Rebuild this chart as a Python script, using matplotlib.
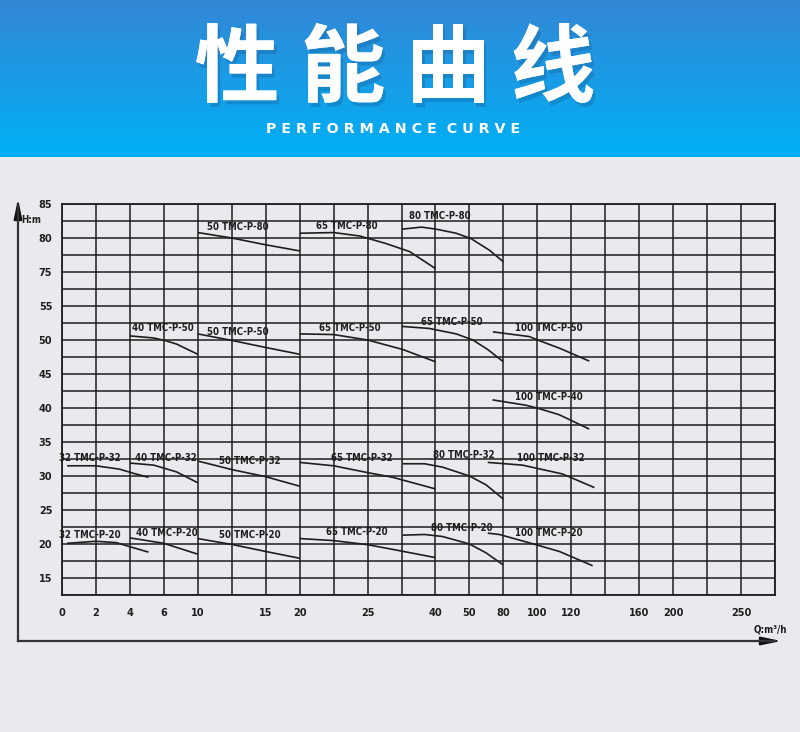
import numpy as np
import matplotlib
matplotlib.use('Agg')
import matplotlib.pyplot as plt
import matplotlib.patheffects as pe
from matplotlib.ticker import FixedLocator, NullFormatter

# ---- datos ----
q_ticks = [0, 2, 4, 6, 10, 15, 20, 25, 40, 50, 80, 100, 120, 160, 200, 250]
h_ticks = [15, 20, 25, 30, 35, 40, 45, 50, 55, 75, 80, 85]

modelos = ["50 TMC-P-80", "65 TMC-P-80", "80 TMC-P-80",
           "40 TMC-P-50", "50 TMC-P-50", "65 TMC-P-50", "65 TMC-P-50",
           "100 TMC-P-50", "100 TMC-P-40",
           "32 TMC-P-32", "40 TMC-P-32", "50 TMC-P-32", "65 TMC-P-32",
           "80 TMC-P-32", "100 TMC-P-32",
           "32 TMC-P-20", "40 TMC-P-20", "50 TMC-P-20", "65 TMC-P-20",
           "80 TMC-P-20", "100 TMC-P-20"]

caudal = [
    [10, 12.5, 15, 20],
    [20, 22.5, 24.4, 29, 34.3, 40],
    [32.6, 36.9, 40.2, 46.1, 51.5, 67.7, 80],
    [4, 5.4, 6.2, 7.5, 10],
    [10, 12.6, 15, 20],
    [20, 22.5, 25, 32.8, 40],
    [32.6, 38.6, 46.1, 53, 66.2, 80],
    [70.7, 95.3, 101.2, 113, 130.6],
    [70.4, 93.4, 101.2, 113, 130.6],
    [0.3, 2.0, 3.4, 4.2, 5.1],
    [4, 5.4, 7.5, 10],
    [10, 12.6, 15, 20],
    [20, 22.5, 25, 30.6, 40],
    [32.8, 37.6, 42.1, 50, 64.7, 80],
    [66.2, 91.2, 114.8, 133.6],
    [0.3, 2.0, 3.2, 4.0, 5.1],
    [4, 6, 10],
    [10, 12.6, 15, 20],
    [20, 22.5, 25, 30.6, 40],
    [32.8, 37.6, 42.1, 50, 64.7, 80],
    [66.2, 76.4, 99.2, 113, 132.6],
]

altura = [
    [80.8, 80.0, 79.0, 78.1],
    [80.7, 80.8, 80.3, 79.2, 78.0, 75.5],
    [81.3, 81.6, 81.3, 80.7, 79.9, 78.2, 76.5],
    [50.6, 50.3, 49.9, 49.4, 47.9],
    [50.9, 49.9, 48.9, 47.9],
    [50.9, 50.8, 50.0, 48.6, 46.8],
    [52.0, 51.7, 50.9, 50.0, 48.6, 46.8],
    [51.2, 50.5, 49.9, 48.8, 46.9],
    [41.2, 40.4, 39.9, 39.0, 36.9],
    [31.5, 31.5, 31.0, 30.4, 29.8],
    [31.9, 31.6, 30.6, 29.0],
    [32.2, 30.9, 29.9, 28.5],
    [32.0, 31.5, 30.5, 29.8, 28.1],
    [31.8, 31.8, 31.3, 30.0, 28.7, 26.6],
    [32.0, 31.6, 30.3, 28.3],
    [20.1, 20.4, 20.2, 19.6, 18.8],
    [20.9, 20.1, 18.5],
    [20.8, 19.9, 18.9, 17.9],
    [20.8, 20.5, 19.9, 19.2, 18.0],
    [21.3, 21.4, 21.1, 20.0, 18.7, 16.9],
    [21.6, 21.4, 19.9, 18.9, 16.8],
]

# posicion de cada etiqueta (columna, fila de la rejilla)
pos_etiquetas = [(5.18, 21.65), (8.38, 21.71), (11.12, 22.29),
                 (2.97, 15.71), (5.18, 15.47), (8.47, 15.71), (11.47, 16.06),
                 (14.35, 15.71), (14.35, 11.65),
                 (0.82, 8.06), (3.06, 8.06), (5.53, 7.88), (8.82, 8.06),
                 (11.82, 8.24), (14.41, 8.06),
                 (0.82, 3.53), (3.09, 3.65), (5.53, 3.53), (8.68, 3.71),
                 (11.79, 3.94), (14.35, 3.65)]

# ---- escalas no lineales (cada celda de la rejilla) ----
q_nodos = np.array([0, 2, 4, 6, 10, 15, 20, 25, 40, 50, 80, 100, 120, 160, 200, 250, 275], float)
c_nodos = np.array([0, 1, 2, 3, 4, 6, 7, 9, 11, 12, 13, 14, 15, 17, 18, 20, 21], float)
h_nodos = np.array([12.5, 55, 75, 85], float)
r_nodos = np.array([0, 17, 19, 23], float)

def q_fwd(q):
    return np.interp(q, q_nodos, c_nodos)

def q_inv(c):
    return np.interp(c, c_nodos, q_nodos)

def h_fwd(h):
    return np.interp(h, h_nodos, r_nodos)

def h_inv(r):
    return np.interp(r, r_nodos, h_nodos)

W, H = 800, 732
fig = plt.figure(figsize=(W / 100, H / 100), dpi=100)
fig.patch.set_facecolor('#e9eaee')

# ---- cabecera azul ----
ban = fig.add_axes([0, 1 - 157 / H, 1, 157 / H])
grad = np.linspace(0, 1, 256).reshape(-1, 1)
top = np.array([0.20, 0.53, 0.84])
bot = np.array([0.00, 0.69, 0.96])
img = top + (bot - top) * grad[:, :, None]
ban.imshow(img, aspect='auto', extent=[0, 1, 0, 1])
ban.set_xlim(0, 1)
ban.set_ylim(0, 1)
ban.axis('off')

sombra = [pe.withSimplePatchShadow(offset=(2, -3), shadow_rgbFace='#124a80', alpha=0.25), pe.Normal()]
for ch, xc in zip("性能曲线", [237, 343, 448, 553]):
    fig.text(xc / W, 1 - 70 / H, ch, color='white', fontsize=61, fontweight='bold',
             family=['Noto Sans CJK SC', 'DejaVu Sans'], ha='center', va='center',
             path_effects=sombra)
fig.text(393 / W, 1 - 129 / H, "P E R F O R M A N C E  C U R V E", color='white',
         fontsize=10.3, fontweight='bold', ha='center', va='center', family='DejaVu Sans')

# ---- grafico ----
ax = fig.add_axes([62 / W, (H - 595) / H, 713 / W, 391 / H])
ax.set_facecolor('#e9eaee')
ax.set_xscale('function', functions=(q_fwd, q_inv))
ax.set_yscale('function', functions=(h_fwd, h_inv))
ax.set_xlim(0, 275)
ax.set_ylim(12.5, 85)

ax.xaxis.set_major_locator(FixedLocator(q_ticks))
ax.xaxis.set_minor_locator(FixedLocator(q_inv(np.arange(22))))
ax.yaxis.set_major_locator(FixedLocator(h_ticks))
ax.yaxis.set_minor_locator(FixedLocator(h_inv(np.arange(24))))
ax.set_xticklabels([str(v) for v in q_ticks])
ax.set_yticklabels([str(v) for v in h_ticks])
ax.xaxis.set_minor_formatter(NullFormatter())
ax.yaxis.set_minor_formatter(NullFormatter())
ax.grid(True, which='both', color='#1e1e1e', linewidth=1.1)
ax.set_axisbelow(True)
ax.tick_params(which='both', length=0)
ax.tick_params(axis='x', pad=9)
ax.tick_params(axis='y', pad=7)
fuente = 'DejaVu Sans'
for lab in ax.get_xticklabels() + ax.get_yticklabels():
    lab.set_family(fuente)
    lab.set_fontstretch('condensed')
    lab.set_fontweight('bold')
    lab.set_fontsize(7.8)
    lab.set_color('#1e1e1e')
for s in ax.spines.values():
    s.set_color('#1e1e1e')
    s.set_linewidth(1.3)

for q, h in zip(caudal, altura):
    ax.plot(q, h, color='#1e1e1e', linewidth=1.2, solid_capstyle='butt')

for nombre, (c, r) in zip(modelos, pos_etiquetas):
    ax.text(c / 21, r / 23, nombre, transform=ax.transAxes, ha='center', va='center',
            fontsize=6.9, fontweight='bold', family=fuente, fontstretch='condensed',
            color='#1e1e1e')

# ---- ejes con flecha ----
fig.add_artist(plt.Line2D([18 / W, 18 / W], [1 - 641 / H, 1 - 205 / H], color='#333333', lw=1.6))
fig.add_artist(plt.Line2D([18 / W, 775 / W], [1 - 641 / H, 1 - 641 / H], color='#333333', lw=1.6))
ax.annotate('', xy=(18, H - 196), xytext=(18, H - 215), xycoords='figure pixels',
            textcoords='figure pixels',
            arrowprops=dict(arrowstyle='-|>,head_length=1.2,head_width=0.25', color='#111111', lw=1.4))
ax.annotate('', xy=(784, H - 641), xytext=(765, H - 641), xycoords='figure pixels',
            textcoords='figure pixels',
            arrowprops=dict(arrowstyle='-|>,head_length=1.2,head_width=0.25', color='#111111', lw=1.4))
fig.text(21 / W, 1 - 220 / H, "H:m", fontsize=7, family=fuente, fontstretch='condensed',
         fontweight='bold', ha='left', va='center', color='#1e1e1e')
fig.text(770 / W, 1 - 630 / H, "Q:m³/h", fontsize=7, family=fuente, fontstretch='condensed',
         fontweight='bold', ha='center', va='center', color='#1e1e1e')

plt.savefig('out.png', dpi=100, facecolor=fig.get_facecolor())
